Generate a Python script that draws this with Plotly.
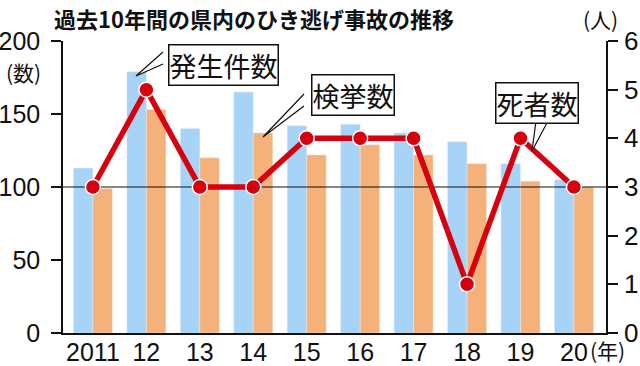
import plotly.graph_objects as go

years = ["2011", "12", "13", "14", "15", "16", "17", "18", "19", "20"]
occurrences = [113, 179, 140, 165, 142, 143, 137, 131, 116, 105]   # 発生件数 (left axis)
arrests = [99, 153, 120, 137, 122, 129, 122, 116, 104, 100]         # 検挙数 (left axis)
deaths = [3, 5, 3, 3, 4, 4, 4, 1, 4, 3]                             # 死者数 (right axis)
left_ticks = [0, 50, 100, 150, 200]
right_ticks = [0, 1, 2, 3, 4, 5, 6]

W, H = 640, 366
L, R, T, B = 63, 606, 41, 333
xr = [-0.56, 9.6]
xs = list(range(len(years)))

def px(x):
    return (x - L) / (R - L)

def py(y):
    return (B - y) / (B - T)

BLUE = "#a7d3f6"
ORANGE = "#f4b179"
RED = "#d7000f"
TICKFONT = dict(family="Liberation Sans Narrow, Liberation Sans, sans-serif",
                size=25, color="#111")
JP = "Noto Sans CJK JP"

fig = go.Figure()
fig.add_trace(go.Bar(x=xs, y=occurrences, marker_color=BLUE, name="発生件数"))
fig.add_trace(go.Bar(x=xs, y=arrests, marker_color=ORANGE, name="検挙数"))
fig.add_trace(go.Scatter(x=xr, y=[100, 100], mode="lines",
                         line=dict(color="#111", width=1.2), hoverinfo="skip"))
fig.add_trace(go.Scatter(x=xs, y=deaths, yaxis="y2", mode="lines+markers",
                         line=dict(color=RED, width=5.5),
                         marker=dict(size=15, color=RED, line=dict(color="white", width=1.5)),
                         cliponaxis=False, name="死者数"))

fig.update_layout(
    width=W, height=H,
    margin=dict(l=L, r=W - R, t=T, b=H - B, autoexpand=False),
    paper_bgcolor="white", plot_bgcolor="white",
    showlegend=False, barmode="group", bargap=0.27, bargroupgap=0,
    xaxis=dict(range=xr, tickmode="array", tickvals=xs, ticktext=years, tickangle=0,
               automargin=False,
               showgrid=False, zeroline=False, showline=True, linecolor="#111", linewidth=1.5,
               ticks="", tickfont=TICKFONT, ticklabelstandoff=-4),
    yaxis=dict(range=[0, 200], tickvals=left_ticks, showgrid=False, zeroline=False,
               automargin=False,
               showline=True, linecolor="#111", linewidth=1.5,
               ticks="outside", ticklen=10, tickwidth=1.5, tickcolor="#111",
               tickfont=TICKFONT, ticklabelstandoff=6),
    yaxis2=dict(range=[0, 6], tickvals=right_ticks, overlaying="y", side="right",
                automargin=False,
                showgrid=False, zeroline=False, showline=True, linecolor="#111", linewidth=1.5,
                ticks="outside", ticklen=10, tickwidth=1.5, tickcolor="#111",
                tickfont=dict(TICKFONT, size=26), ticklabelstandoff=1),
)

def note(text, x, y, size, **kw):
    fig.add_annotation(text=text, xref="paper", yref="paper", x=px(x), y=py(y),
                       xanchor="center", yanchor="middle", showarrow=False,
                       font=dict(family=JP, size=size, color="#111"), **kw)

# Title
note("<b>過去10年間の県内のひき逃げ事故の推移</b>", 254, 18, 22)
# unit labels
note("(数)", 23, 72, 21)
note("(人)", 600, 19, 21)
note("(年)", 607, 350, 21)

# callout wedges
wedges = [
    [(163, 52), (136, 76), (163, 64)],
    [(304, 94), (263, 137), (304, 106)],
    [(536, 121), (532, 151), (548, 121)],
]
for pts in wedges:
    path = "M " + " L ".join(f"{px(a)},{py(b)}" for a, b in pts)
    fig.add_shape(type="path", path=path, xref="paper", yref="paper",
                  line=dict(color="#111", width=1.2), fillcolor="white", layer="above")

# callout boxes
boxes = [("発生件数", 223, 65), ("検挙数", 353, 95), ("死者数", 537, 103)]
for txt, cx, cy in boxes:
    note(txt, cx, cy, 27, bgcolor="white", bordercolor="#111", borderwidth=1.5, borderpad=0)

fig.write_html("out.html", config={"displayModeBar": False},
               post_script="document.body.style.margin='0';document.body.style.overflow='hidden';")
